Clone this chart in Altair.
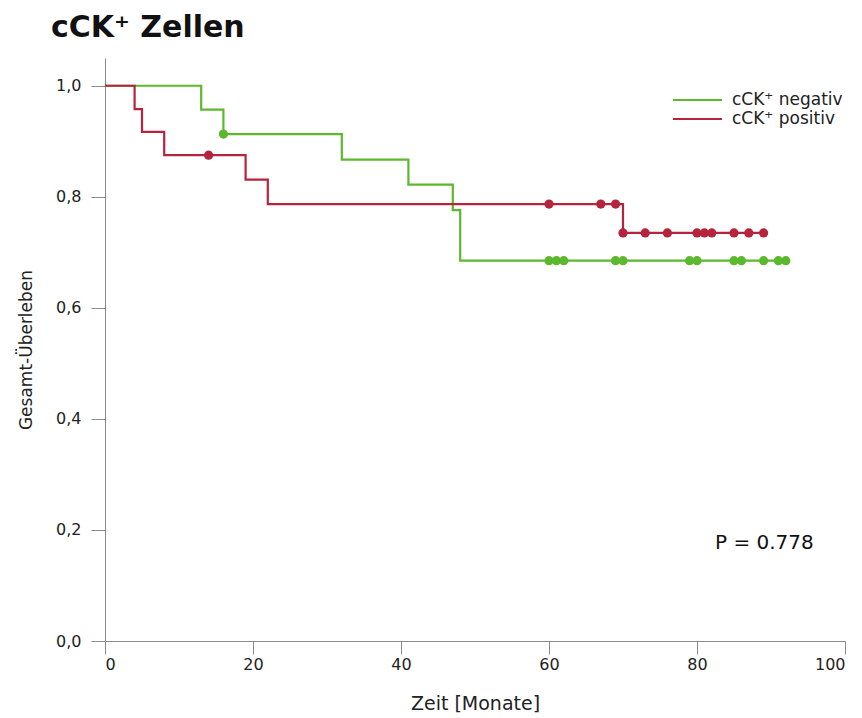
import altair as alt
import pandas as pd

# Kaplan-Meier step curves
neg_label = "cCK⁺ negativ"
pos_label = "cCK⁺ positiv"

neg_times = [0, 13, 16, 32, 41, 47, 48, 92]
neg_surv = [1.0, 0.957, 0.913, 0.867, 0.822, 0.776, 0.685, 0.685]
pos_times = [0, 4, 5, 8, 19, 22, 70, 89]
pos_surv = [1.0, 0.958, 0.917, 0.875, 0.831, 0.787, 0.735, 0.735]

# censored observations
neg_cens_t = [16, 60, 61, 62, 69, 70, 79, 80, 85, 86, 89, 91, 92]
neg_cens_s = [0.913] + [0.685] * 12
pos_cens_t = [14, 60, 67, 69, 70, 73, 76, 80, 81, 82, 85, 87, 89]
pos_cens_s = [0.875, 0.787, 0.787, 0.787] + [0.735] * 9

groups = [neg_label, pos_label]
colors = ["#5cb82c", "#b5243c"]
y_ticks = [0.0, 0.2, 0.4, 0.6, 0.8, 1.0]
x_ticks = [0, 20, 40, 60, 80, 100]
title_text = "cCK⁺ Zellen"
p_text = "P = 0.778"

lines = pd.DataFrame({
    "t": neg_times + pos_times,
    "s": neg_surv + pos_surv,
    "g": [neg_label] * len(neg_times) + [pos_label] * len(pos_times),
    "o": [0] * len(neg_times) + [1] * len(pos_times),
})
cens = pd.DataFrame({
    "t": neg_cens_t + pos_cens_t,
    "s": neg_cens_s + pos_cens_s,
    "g": [neg_label] * len(neg_cens_t) + [pos_label] * len(pos_cens_t),
})

FONT = "DejaVu Sans"

x_enc = alt.X("t:Q", scale=alt.Scale(domain=[0, 100], nice=False),
              axis=alt.Axis(values=x_ticks, title="Zeit [Monate]", grid=False,
                            domainColor="#8a8a8a", tickColor="#8a8a8a", tickSize=13,
                            labelFont=FONT, labelFontSize=16, labelColor="#222",
                            labelPadding=2, titleFont=FONT, titleFontSize=19,
                            titleFontWeight="normal", titleColor="#222", titlePadding=22))
y_enc = alt.Y("s:Q", scale=alt.Scale(domain=[0, 1.05], nice=False),
              axis=alt.Axis(values=y_ticks, title="Gesamt-Überleben", grid=False,
                            labelExpr="replace(format(datum.value, '.1f'), '.', ',')",
                            domainColor="#8a8a8a", tickColor="#8a8a8a", tickSize=14,
                            labelFont=FONT, labelFontSize=16, labelColor="#222",
                            labelPadding=10, titleFont=FONT, titleFontSize=17,
                            titleFontWeight="normal", titleColor="#222", titlePadding=20))

line = alt.Chart(lines).mark_line(interpolate="step-after", strokeWidth=2.2).encode(
    x=x_enc, y=y_enc,
    color=alt.Color("g:N", scale=alt.Scale(domain=groups, range=colors), legend=None),
    order="o:Q",
)

points = alt.Chart(cens).mark_point(filled=True, size=85, opacity=1, shape="circle").encode(
    x="t:Q", y="s:Q",
    fill=alt.Fill("g:N", scale=alt.Scale(domain=groups, range=colors), legend=None),
)

# manual legend
legend_layers = []
for i, (lab, col) in enumerate(zip(groups, colors)):
    yy = 42 + i * 19
    legend_layers.append(
        alt.Chart(pd.DataFrame({"lab": [lab]})).mark_rule(color=col, strokeWidth=2.2).encode(
            x=alt.value(568), x2=alt.value(617), y=alt.value(yy)))
    legend_layers.append(
        alt.Chart(pd.DataFrame({"lab": [lab]})).mark_text(
            align="left", baseline="middle", font=FONT, fontSize=17, color="#222"
        ).encode(x=alt.value(627), y=alt.value(yy), text="lab:N"))

title = alt.Chart(pd.DataFrame({"txt": [title_text]})).mark_text(
    align="left", baseline="alphabetic", font=FONT, fontSize=30, fontWeight="bold", color="#111"
).encode(x=alt.value(-54), y=alt.value(-21), text="txt:N")

pval = alt.Chart(pd.DataFrame({"txt": [p_text]})).mark_text(
    align="left", baseline="middle", font=FONT, fontSize=20, color="#111"
).encode(x=alt.value(610), y=alt.value(485), text="txt:N")

chart = alt.layer(line, points, title, pval, *legend_layers).resolve_scale(
    color="independent").properties(
    width=740, height=583,
    autosize=alt.AutoSizeParams(type="none"),
    padding={"left": 105, "top": 58, "right": 17, "bottom": 77},
    background="white",
).configure_view(stroke=None)

chart.save("out.html", embed_options={"renderer": "svg", "actions": False})
